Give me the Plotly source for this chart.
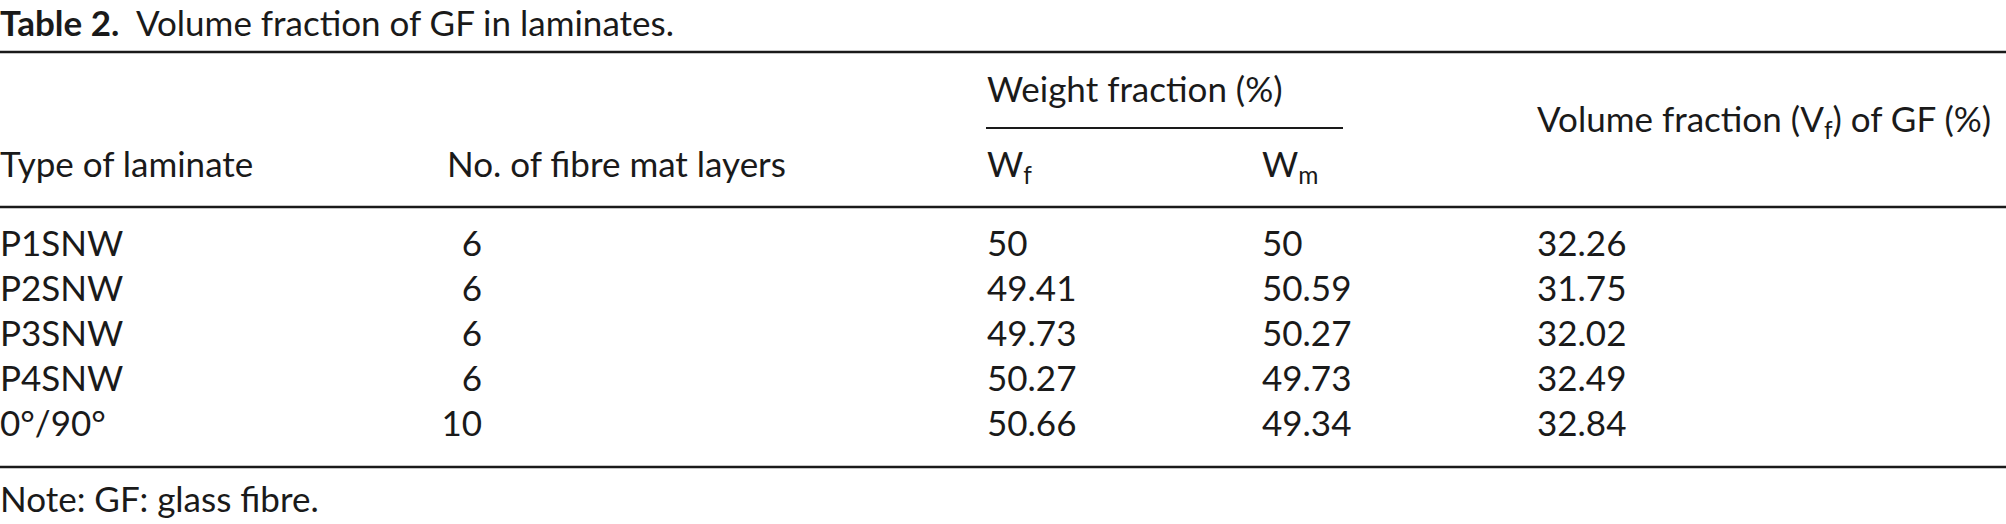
import plotly.graph_objects as go

# Données du tableau
laminates = ["P1SNW", "P2SNW", "P3SNW", "P4SNW", "0°/90°"]
layers = [6, 6, 6, 6, 10]
wf = [50, 49.41, 49.73, 50.27, 50.66]
wm = [50, 50.59, 50.27, 49.73, 49.34]
vf = [32.26, 31.75, 32.02, 32.49, 32.84]

title_bold = "Table 2."
title_text = "Volume fraction of GF in laminates."
note_text = "Note: GF: glass fibre."
headers = ["Type of laminate", "No. of fibre mat layers", "W<sub>f</sub>", "W<sub>m</sub>"]
group_header = "Weight fraction (%)"
vf_header = "Volume fraction (V<sub>f</sub>) of GF (%)"

# Mise en page (pixels)
W, H = 2006, 524
row0, row_step = 247, 45
x_type, x_layers_head, x_layers, x_wf, x_wm, x_vf = 0, 447, 482, 987, 1262, 1537
ink = "#1a1a1a"
fam = "Lato, 'Liberation Sans', Arial, sans-serif"
fsize = 35

rows_y = [row0 + i * row_step for i in range(len(laminates))]

fig = go.Figure()


def add_text(xs, ys, texts, pos="middle right", size=fsize):
    fig.add_trace(go.Scatter(
        x=xs, y=ys, mode="text",
        text=[str(t) for t in texts], textposition=pos,
        textfont=dict(family=fam, size=size, color=ink),
        cliponaxis=False, hoverinfo="skip", showlegend=False,
    ))


# Corps du tableau
n = len(laminates)
add_text([x_type] * n, rows_y, laminates)
add_text([x_layers] * n, rows_y, layers, pos="middle left")
add_text([x_wf] * n, rows_y, wf)
add_text([x_wm] * n, rows_y, wm)
add_text([x_vf] * n, rows_y, vf)

# En-têtes
add_text([x_type, x_layers_head, x_wf, x_wm], [168] * 4, headers)
add_text([x_wf, x_vf], [93, 123], [group_header, vf_header])

# Titre et note
add_text([0], [27], [f"<b>{title_bold}</b>\u00a0\u00a0{title_text}"])
add_text([0], [503], [note_text])

# Filets horizontaux
for y, x0, x1, w in [(52, 0, W, 2.5), (207, 0, W, 2.5), (467, 0, W, 2.5), (128, 986, 1343, 1.8)]:
    fig.add_shape(type="line", xref="x", yref="y", x0=x0, x1=x1, y0=y, y1=y,
                  line=dict(color=ink, width=w))

fig.update_xaxes(range=[0, W], visible=False, fixedrange=True)
fig.update_yaxes(range=[H, 0], visible=False, fixedrange=True)
fig.update_layout(
    width=W, height=H,
    margin=dict(l=0, r=0, t=0, b=0),
    paper_bgcolor="white", plot_bgcolor="white",
)

fig.write_html("out.html", config={"displayModeBar": False},
               post_script="document.body.style.margin='0';")
